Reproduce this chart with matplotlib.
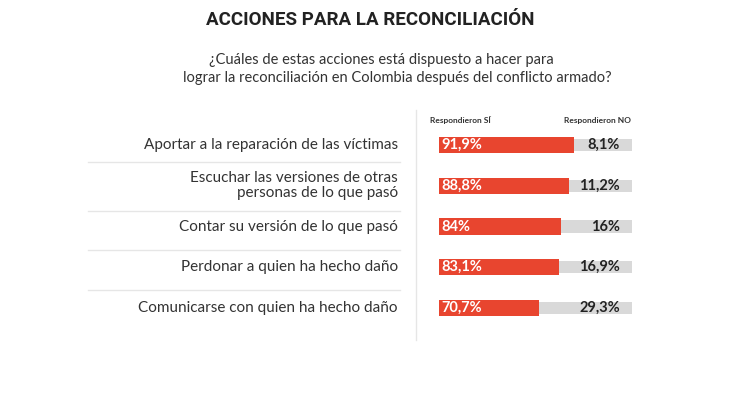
import matplotlib.pyplot as plt
from matplotlib.transforms import blended_transform_factory

# datos
acciones = [
    "Aportar a la reparación de las víctimas",
    "Escuchar las versiones de otras\npersonas de lo que pasó",
    "Contar su versión de lo que pasó",
    "Perdonar a quien ha hecho daño",
    "Comunicarse con quien ha hecho daño",
]
si = [91.9, 88.8, 84.0, 83.1, 70.7]
no = [8.1, 11.2, 16.0, 16.9, 29.3]
etiq_si = ["91,9%", "88,8%", "84%", "83,1%", "70,7%"]
etiq_no = ["8,1%", "11,2%", "16%", "16,9%", "29,3%"]

ROJO = "#e8452f"
GRIS = "#d9d9d9"
LINEA = "#e6e6e6"
BAR_LEFT = 10.9
TRACK_RIGHT = 126.9

plt.rcParams['font.family'] = ['Lato', 'DejaVu Sans']

fig = plt.figure(figsize=(7.47, 4.2), dpi=100)
fig.patch.set_facecolor("white")

ax = fig.add_axes([420.9 / 747, 0.2181, 211.1 / 747, 0.4852])
ax.set_xlim(0, TRACK_RIGHT)
ax.set_ylim(4.5, -0.5)
ax.axis("off")

filas = list(range(len(acciones)))
ax.barh(filas, [TRACK_RIGHT - BAR_LEFT] * len(filas), left=BAR_LEFT, height=0.3, color=GRIS)
ax.barh(filas, [v - BAR_LEFT for v in si], left=BAR_LEFT, height=0.4, color=ROJO)

tr = blended_transform_factory(fig.transFigure, ax.transData)
for i in filas:
    ax.text(441 / 747, i, etiq_si[i], transform=tr, color="white", fontsize=10.5,
            fontweight="bold", ha="left", va="center")
    ax.text(620 / 747, i, etiq_no[i], transform=tr, color="#222222", fontsize=10.5,
            fontweight="bold", ha="right", va="center")
    ax.text(398 / 747, i, acciones[i], transform=tr, color="#333333", fontsize=11,
            ha="right", va="center", linespacing=1.1)

for y in [0.42, 1.62, 2.58, 3.56]:
    ax.plot([88 / 747, 400 / 747], [y, y], transform=tr, color=LINEA, lw=1, clip_on=False)

fig.add_artist(plt.Line2D([416 / 747, 416 / 747], [1 - 110 / 420, 1 - 340 / 420],
                          color=LINEA, lw=1))

fig.text(430 / 747, 1 - 120 / 420, "Respondieron SÍ", fontsize=6, fontweight="bold",
         color="#333333", ha="left", va="center")
fig.text(631 / 747, 1 - 120 / 420, "Respondieron NO", fontsize=6, fontweight="bold",
         color="#333333", ha="right", va="center")

fig.text(370 / 747, 1 - 20 / 420, "ACCIONES PARA LA RECONCILIACIÓN", fontsize=13.5,
         fontweight="bold", color="#222222", ha="center", va="center",
         family=["Roboto", "DejaVu Sans"])
fig.text(381 / 747, 1 - 60 / 420, "¿Cuáles de estas acciones está dispuesto a hacer para",
         fontsize=10.5, color="#333333", ha="center", va="center")
fig.text(397 / 747, 1 - 78 / 420,
         "lograr la reconciliación en Colombia después del conflicto armado?",
         fontsize=10.5, color="#333333", ha="center", va="center")

fig.savefig("out.png", dpi=100, facecolor="white")
